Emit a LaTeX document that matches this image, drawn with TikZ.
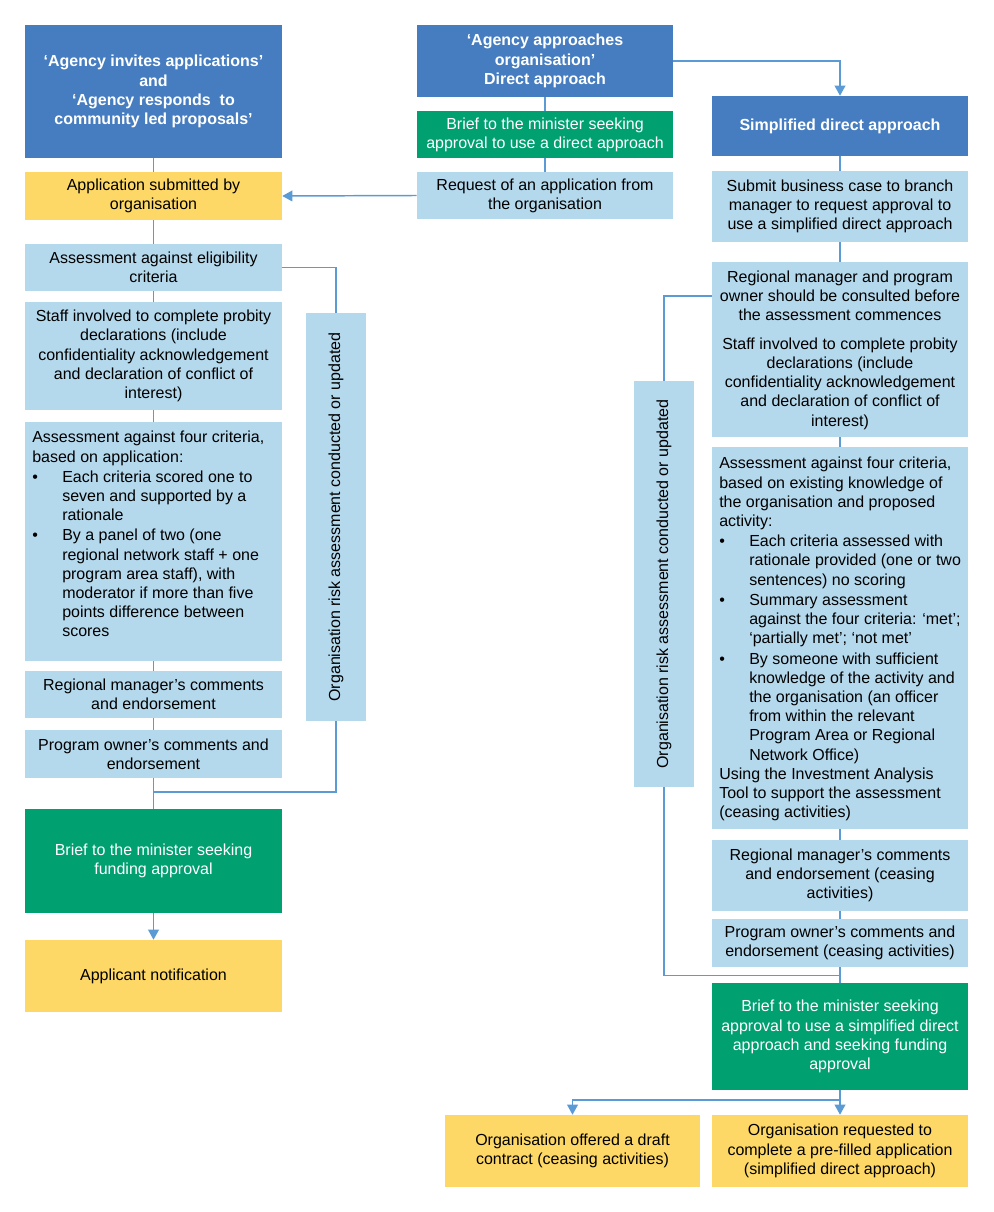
\documentclass[tikz,border=0pt]{standalone}
\usepackage{fontspec}
\setmainfont{Liberation Sans}
\usetikzlibrary{arrows.meta}
\definecolor{hdrblue}{HTML}{467DC0}
\definecolor{ltblue}{HTML}{B4D8EC}
\definecolor{grn}{HTML}{00A071}
\definecolor{ylw}{HTML}{FED866}
\definecolor{lnblue}{HTML}{5B9BD5}
\newcommand{\mybul}{\makebox[22.5pt][l]{\textbullet}}
\newcommand{\myind}{\hspace*{22.5pt}}
\begin{document}
\begin{tikzpicture}[x=0.75pt,y=-0.75pt,
  base/.style={rectangle, inner sep=0pt, align=center, font=\fontsize{12}{14.4}\selectfont},
  hdr/.style={base, fill=hdrblue, text=white, font=\fontsize{12}{14.4}\selectfont\bfseries},
  lb/.style={base, fill=ltblue, text=black},
  gr/.style={base, fill=grn, text=white},
  yl/.style={base, fill=ylw, text=black},
  colL/.style={minimum width=192.75pt},
  colM/.style={minimum width=192pt},
  colR/.style={minimum width=192pt},
  conn/.style={draw=lnblue, line width=1.1pt},
  arr/.style={conn, -{Triangle[width=8pt,length=7.5pt]}},
]
\useasboundingbox (0,0) rectangle (994,1212);

% left column
\node[hdr,colL,minimum height=99.75pt] (l0) at (153.5,91.5) {‘Agency invites applications’\\and\\‘Agency responds\ \ to\\community led proposals’};
\node[yl,colL,minimum height=36pt] (l1) at (153.5,196) {Application submitted by\\organisation};
\node[lb,colL,minimum height=35.25pt] (l2) at (153.5,267.5) {Assessment against eligibility\\criteria};
\node[lb,colL,minimum height=81pt] (l3) at (153.5,356) {Staff involved to complete probity\\declarations (include\\confidentiality acknowledgement\\and declaration of conflict of\\interest)};
\node[lb,colL,minimum height=179.25pt] (l4) at (153.5,541.5) {};
\node[base,align=left,anchor=north west] (l4t) at (32,431) {Assessment against four criteria,\\based on application:\\[0.8pt]
\mybul Each criteria scored one to\\\myind seven and supported by a\\\myind rationale\\[0.8pt]
\mybul By a panel of two (one\\\myind regional network staff + one\\\myind program area staff), with\\\myind moderator if more than five\\\myind points difference between\\\myind scores};
\node[lb,colL,minimum height=35.25pt] (l5) at (153.5,694.5) {Regional manager’s comments\\and endorsement};
\node[lb,colL,minimum height=36pt] (l6) at (153.5,754) {Program owner’s comments and\\endorsement};
\node[gr,colL,minimum height=78pt] (l7) at (153.5,861) {Brief to the minister seeking\\funding approval};
\node[yl,colL,minimum height=54pt] (l8) at (153.5,976) {Applicant notification};
\node[lb,rotate=90,minimum width=306pt,minimum height=45pt] (lr) at (336,517) {Organisation risk assessment conducted or updated};

% middle column
\node[hdr,colM,minimum height=54pt] (m0) at (545,61) {‘Agency approaches\\organisation’\\Direct approach};
\node[gr,colM,minimum height=35.25pt] (m1) at (545,134.5) {Brief to the minister seeking\\approval to use a direct approach};
\node[lb,colM,minimum height=35.25pt] (m2) at (545,195.5) {Request of an application from\\the organisation};

% right column
\node[hdr,colR,minimum height=45pt] (r0) at (840,126) {Simplified direct approach};
\node[lb,colR,minimum height=53.25pt] (r1) at (840,206.5) {Submit business case to branch\\manager to request approval to\\use a simplified direct approach};
\node[lb,colR,minimum height=51pt] (r2) at (840,296) {Regional manager and program\\owner should be consulted before\\the assessment commences};
\node[lb,colR,minimum height=80.25pt] (r3) at (840,383.5) {Staff involved to complete probity\\declarations (include\\confidentiality acknowledgement\\and declaration of conflict of\\interest)};
\node[lb,colR,minimum height=286.5pt] (r4) at (840,638) {};
\node[base,align=left,anchor=north west] (r4t) at (719,457) {Assessment against four criteria,\\based on existing knowledge of\\the organisation and proposed\\activity:\\[0.8pt]
\mybul Each criteria assessed with\\\myind rationale provided (one or two\\\myind sentences) no scoring\\[0.8pt]
\mybul Summary assessment\\\myind against the four criteria: ‘met’;\\\myind ‘partially met’; ‘not met’\\[0.8pt]
\mybul By someone with sufficient\\\myind knowledge of the activity and\\\myind the organisation (an officer\\\myind from within the relevant\\\myind Program Area or Regional\\\myind Network Office)\\
Using the Investment Analysis\\Tool to support the assessment\\(ceasing activities)};
\node[lb,colR,minimum height=53.25pt] (r5) at (840,875.5) {Regional manager’s comments\\and endorsement (ceasing\\activities)};
\node[lb,colR,minimum height=36pt] (r6) at (840,943) {Program owner’s comments and\\endorsement (ceasing activities)};
\node[gr,colR,minimum height=80.25pt] (r7) at (840,1036.5) {Brief to the minister seeking\\approval to use a simplified direct\\approach and seeking funding\\approval};
\node[yl,minimum width=191.25pt,minimum height=54pt] (b1) at (572.5,1151) {Organisation offered a draft\\contract (ceasing activities)};
\node[yl,colR,minimum height=54pt] (b2) at (840,1151) {Organisation requested to\\complete a pre-filled application\\(simplified direct approach)};
\node[lb,rotate=90,minimum width=304.5pt,minimum height=45pt] (rr) at (664,584) {Organisation risk assessment conducted or updated};

% connectors left
\draw[conn] (l0) -- (l1);
\draw[conn] (l1) -- (l2);
\draw[conn] (l2) -- (l3);
\draw[conn] (l3) -- (l4);
\draw[conn] (l4) -- (l5);
\draw[conn] (l5) -- (l6);
\draw[conn] (l6) -- (l7);
\draw[arr] (l7) -- (l8);
\draw[conn] (l2.east) -| (lr.east);
\coordinate (lj) at (153.5,792);
\draw[conn] (lr.west) |- (lj);

% connectors middle
\draw[conn] (m0) -- (m1);
\draw[conn] (m1) -- (m2);
\draw[arr] (m2.west) -- (l1.east);
\draw[arr] (m0.east) -| (r0.north);

% connectors right
\draw[conn] (r0) -- (r1);
\draw[conn] (r1) -- (r2);
\draw[conn] (r3) -- (r4);
\draw[conn] (r4) -- (r5);
\draw[conn] (r5) -- (r6);
\draw[conn] (r6) -- (r7);
\draw[conn] (r2.west) -| (rr.east);
\coordinate (rj) at (840,975.5);
\draw[conn] (rr.west) |- (rj);
\coordinate (rk) at (840,1100);
\draw[conn] (r7.south) -- (rk);
\draw[arr] (rk) -- (b2.north);
\draw[arr] (rk) -| (b1.north);
\end{tikzpicture}
\end{document}
